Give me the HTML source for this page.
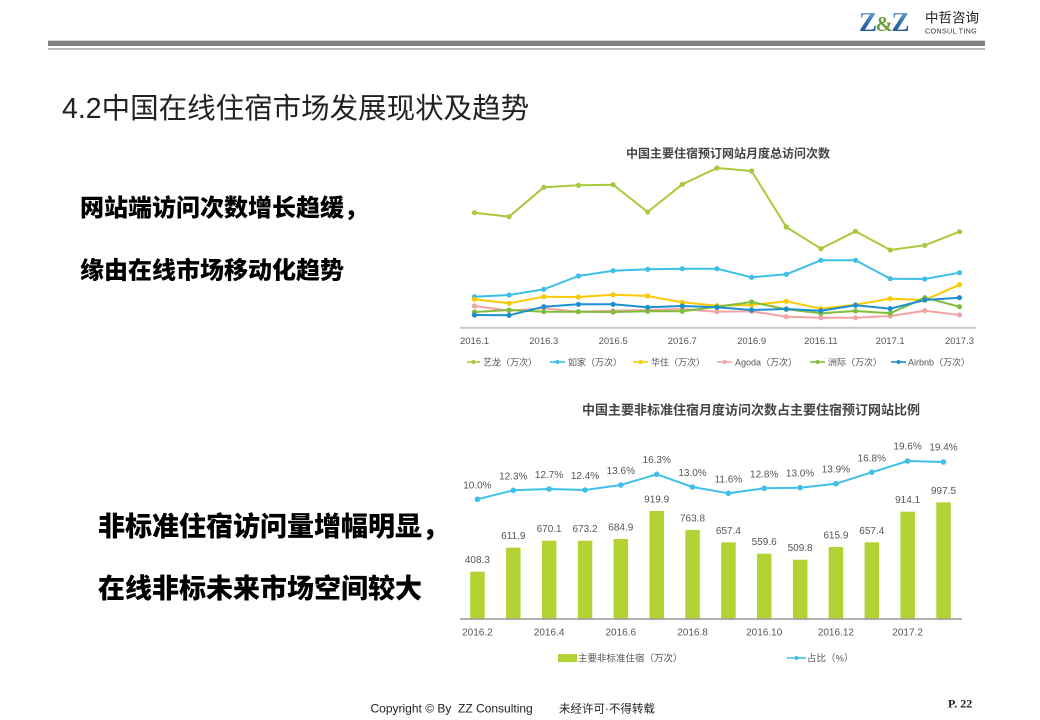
<!DOCTYPE html>
<html>
<head>
<meta charset="utf-8">
<style>
html,body{margin:0;padding:0;background:#fff;}
body{width:1040px;height:720px;overflow:hidden;}
svg{display:block;}
.cjk{font-family:"Liberation Sans","Noto Sans CJK SC","WenQuanYi Zen Hei",sans-serif;}
.sm{font-family:"Liberation Sans","Noto Sans CJK SC",sans-serif;font-size:9.5px;fill:#555;}
.val{font-family:"Liberation Sans","Noto Sans CJK SC",sans-serif;font-size:10px;fill:#555;text-anchor:middle;}
</style>
</head>
<body>
<svg width="1040" height="720" viewBox="0 0 1040 720" xmlns="http://www.w3.org/2000/svg">
<defs>
<linearGradient id="zg" x1="0" y1="0" x2="0" y2="1">
<stop offset="0" stop-color="#8fb6dc"/>
<stop offset="0.5" stop-color="#2f6fb0"/>
<stop offset="1" stop-color="#1d4f8a"/>
</linearGradient>
</defs>

<!-- Header -->
<text x="859" y="31" font-family="Liberation Serif,serif" font-weight="bold" font-size="27" fill="url(#zg)" letter-spacing="-1.5">Z<tspan fill="#6aa040" font-size="21">&amp;</tspan>Z</text>
<text x="925" y="22.5" class="cjk" font-size="13.5" fill="#222">中哲咨询</text>
<text x="925" y="33.5" font-family="Liberation Sans,sans-serif" font-size="7.2" fill="#333" letter-spacing="0.3">CONSUL TING</text>
<rect x="48" y="40.7" width="937" height="5.3" fill="#808080"/>
<rect x="48" y="48.3" width="937" height="1.4" fill="#9a9a9a"/>

<!-- Title -->
<text x="62" y="118" class="cjk" font-size="28.5" fill="#222">4.2中国在线住宿市场发展现状及趋势</text>

<!-- Left bold text -->
<text x="80" y="216" class="cjk" font-size="24" font-weight="900" fill="#000">网站端访问次数增长趋缓，</text>
<text x="80" y="278.5" class="cjk" font-size="24" font-weight="900" fill="#000">缘由在线市场移动化趋势</text>
<text x="98" y="536" class="cjk" font-size="27" font-weight="900" fill="#000">非标准住宿访问量增幅明显，</text>
<text x="98" y="598" class="cjk" font-size="27" font-weight="900" fill="#000">在线非标未来市场空间较大</text>

<!-- Top chart -->
<text x="728" y="157.5" class="cjk" font-size="12" font-weight="bold" fill="#444" text-anchor="middle">中国主要住宿预订网站月度总访问次数</text>

<g fill="none" stroke-width="2" stroke-linejoin="round">
<polyline stroke="#a9c93c" points="474.5,212.7 509.1,216.7 543.8,187.3 578.4,185.3 613.1,184.7 647.7,212 682.3,184.3 717,168 751.6,171 786.3,227 820.9,248.7 855.5,231.3 890.2,250 924.8,245.3 959.5,231.7"/>
<polyline stroke="#3dbfe8" points="474.5,296.7 509.1,295 543.8,289.3 578.4,276 613.1,270.7 647.7,269.3 682.3,268.7 717,268.7 751.6,277.3 786.3,274.3 820.9,260.3 855.5,260.3 890.2,278.7 924.8,279 959.5,272.7"/>
<polyline stroke="#fbc900" points="474.5,299.3 509.1,303.3 543.8,296.7 578.4,297 613.1,294.7 647.7,296 682.3,302.3 717,305.7 751.6,305 786.3,301.3 820.9,308.7 855.5,304.7 890.2,298.7 924.8,300 959.5,284.7"/>
<polyline stroke="#f2a3a3" points="474.5,306 509.1,310.7 543.8,308.3 578.4,311.7 613.1,310.7 647.7,310 682.3,309 717,311.7 751.6,311.3 786.3,316.7 820.9,317.7 855.5,317.7 890.2,316 924.8,310.7 959.5,315"/>
<polyline stroke="#80bd3a" points="474.5,312 509.1,310 543.8,311.7 578.4,311.7 613.1,312 647.7,311.3 682.3,311.3 717,306.7 751.6,302 786.3,309.3 820.9,313.3 855.5,311 890.2,313.3 924.8,297.7 959.5,306.7"/>
<polyline stroke="#1d8fcf" points="474.5,315 509.1,315.3 543.8,306.7 578.4,304.3 613.1,304.3 647.7,307.3 682.3,306 717,307.3 751.6,310 786.3,309 820.9,310.7 855.5,305.3 890.2,308.7 924.8,300 959.5,297.7"/>
</g>
<g fill="#a9c93c">
<circle cx="474.5" cy="212.7" r="2.6"/><circle cx="509.1" cy="216.7" r="2.6"/><circle cx="543.8" cy="187.3" r="2.6"/><circle cx="578.4" cy="185.3" r="2.6"/><circle cx="613.1" cy="184.7" r="2.6"/><circle cx="647.7" cy="212" r="2.6"/><circle cx="682.3" cy="184.3" r="2.6"/><circle cx="717" cy="168" r="2.6"/><circle cx="751.6" cy="171" r="2.6"/><circle cx="786.3" cy="227" r="2.6"/><circle cx="820.9" cy="248.7" r="2.6"/><circle cx="855.5" cy="231.3" r="2.6"/><circle cx="890.2" cy="250" r="2.6"/><circle cx="924.8" cy="245.3" r="2.6"/><circle cx="959.5" cy="231.7" r="2.6"/>
</g>
<g fill="#3dbfe8">
<circle cx="474.5" cy="296.7" r="2.6"/><circle cx="509.1" cy="295" r="2.6"/><circle cx="543.8" cy="289.3" r="2.6"/><circle cx="578.4" cy="276" r="2.6"/><circle cx="613.1" cy="270.7" r="2.6"/><circle cx="647.7" cy="269.3" r="2.6"/><circle cx="682.3" cy="268.7" r="2.6"/><circle cx="717" cy="268.7" r="2.6"/><circle cx="751.6" cy="277.3" r="2.6"/><circle cx="786.3" cy="274.3" r="2.6"/><circle cx="820.9" cy="260.3" r="2.6"/><circle cx="855.5" cy="260.3" r="2.6"/><circle cx="890.2" cy="278.7" r="2.6"/><circle cx="924.8" cy="279" r="2.6"/><circle cx="959.5" cy="272.7" r="2.6"/>
</g>
<g fill="#fbc900">
<circle cx="474.5" cy="299.3" r="2.6"/><circle cx="509.1" cy="303.3" r="2.6"/><circle cx="543.8" cy="296.7" r="2.6"/><circle cx="578.4" cy="297" r="2.6"/><circle cx="613.1" cy="294.7" r="2.6"/><circle cx="647.7" cy="296" r="2.6"/><circle cx="682.3" cy="302.3" r="2.6"/><circle cx="717" cy="305.7" r="2.6"/><circle cx="751.6" cy="305" r="2.6"/><circle cx="786.3" cy="301.3" r="2.6"/><circle cx="820.9" cy="308.7" r="2.6"/><circle cx="855.5" cy="304.7" r="2.6"/><circle cx="890.2" cy="298.7" r="2.6"/><circle cx="924.8" cy="300" r="2.6"/><circle cx="959.5" cy="284.7" r="2.6"/>
</g>
<g fill="#f2a3a3">
<circle cx="474.5" cy="306" r="2.6"/><circle cx="509.1" cy="310.7" r="2.6"/><circle cx="543.8" cy="308.3" r="2.6"/><circle cx="578.4" cy="311.7" r="2.6"/><circle cx="613.1" cy="310.7" r="2.6"/><circle cx="647.7" cy="310" r="2.6"/><circle cx="682.3" cy="309" r="2.6"/><circle cx="717" cy="311.7" r="2.6"/><circle cx="751.6" cy="311.3" r="2.6"/><circle cx="786.3" cy="316.7" r="2.6"/><circle cx="820.9" cy="317.7" r="2.6"/><circle cx="855.5" cy="317.7" r="2.6"/><circle cx="890.2" cy="316" r="2.6"/><circle cx="924.8" cy="310.7" r="2.6"/><circle cx="959.5" cy="315" r="2.6"/>
</g>
<g fill="#80bd3a">
<circle cx="474.5" cy="312" r="2.6"/><circle cx="509.1" cy="310" r="2.6"/><circle cx="543.8" cy="311.7" r="2.6"/><circle cx="578.4" cy="311.7" r="2.6"/><circle cx="613.1" cy="312" r="2.6"/><circle cx="647.7" cy="311.3" r="2.6"/><circle cx="682.3" cy="311.3" r="2.6"/><circle cx="717" cy="306.7" r="2.6"/><circle cx="751.6" cy="302" r="2.6"/><circle cx="786.3" cy="309.3" r="2.6"/><circle cx="820.9" cy="313.3" r="2.6"/><circle cx="855.5" cy="311" r="2.6"/><circle cx="890.2" cy="313.3" r="2.6"/><circle cx="924.8" cy="297.7" r="2.6"/><circle cx="959.5" cy="306.7" r="2.6"/>
</g>
<g fill="#1d8fcf">
<circle cx="474.5" cy="315" r="2.6"/><circle cx="509.1" cy="315.3" r="2.6"/><circle cx="543.8" cy="306.7" r="2.6"/><circle cx="578.4" cy="304.3" r="2.6"/><circle cx="613.1" cy="304.3" r="2.6"/><circle cx="647.7" cy="307.3" r="2.6"/><circle cx="682.3" cy="306" r="2.6"/><circle cx="717" cy="307.3" r="2.6"/><circle cx="751.6" cy="310" r="2.6"/><circle cx="786.3" cy="309" r="2.6"/><circle cx="820.9" cy="310.7" r="2.6"/><circle cx="855.5" cy="305.3" r="2.6"/><circle cx="890.2" cy="308.7" r="2.6"/><circle cx="924.8" cy="300" r="2.6"/><circle cx="959.5" cy="297.7" r="2.6"/>
</g>
<rect x="460" y="326.8" width="516" height="2" fill="#c8c8c8"/>
<g class="sm" text-anchor="middle">
<text x="474.5" y="344">2016.1</text>
<text x="543.8" y="344">2016.3</text>
<text x="613.1" y="344">2016.5</text>
<text x="682.3" y="344">2016.7</text>
<text x="751.6" y="344">2016.9</text>
<text x="820.9" y="344">2016.11</text>
<text x="890.2" y="344">2017.1</text>
<text x="959.5" y="344">2017.3</text>
</g>
<!-- top legend -->
<g stroke-width="1.6">
<line x1="467" y1="362" x2="480" y2="362" stroke="#a9c93c"/>
<line x1="550" y1="362" x2="565" y2="362" stroke="#3dbfe8"/>
<line x1="633" y1="362" x2="648" y2="362" stroke="#fbc900"/>
<line x1="717" y1="362" x2="732" y2="362" stroke="#f2a3a3"/>
<line x1="810" y1="362" x2="825" y2="362" stroke="#80bd3a"/>
<line x1="891" y1="362" x2="906" y2="362" stroke="#1d8fcf"/>
</g>
<circle cx="473.5" cy="362" r="2" fill="#a9c93c"/>
<circle cx="557.5" cy="362" r="2" fill="#3dbfe8"/>
<circle cx="640.5" cy="362" r="2" fill="#fbc900"/>
<circle cx="724.5" cy="362" r="2" fill="#f2a3a3"/>
<circle cx="817.5" cy="362" r="2" fill="#80bd3a"/>
<circle cx="898.5" cy="362" r="2" fill="#1d8fcf"/>
<g class="sm" font-size="9">
<text x="483" y="365.5" font-size="9">艺龙（万次）</text>
<text x="568" y="365.5" font-size="9">如家（万次）</text>
<text x="651" y="365.5" font-size="9">华住（万次）</text>
<text x="735" y="365.5" font-size="9">Agoda（万次）</text>
<text x="828" y="365.5" font-size="9">洲际（万次）</text>
<text x="908" y="365.5" font-size="9">Airbnb（万次）</text>
</g>

<!-- Bottom chart -->
<text x="751" y="414.5" class="cjk" font-size="13" font-weight="bold" fill="#444" text-anchor="middle">中国主要非标准住宿月度访问次数占主要住宿预订网站比例</text>

<g fill="#b3d234">
<rect x="470.2" y="571.7" width="14.5" height="47.3"/>
<rect x="506.1" y="547.7" width="14.5" height="71.3"/>
<rect x="541.9" y="540.7" width="14.5" height="78.3"/>
<rect x="577.8" y="540.7" width="14.5" height="78.3"/>
<rect x="613.6" y="539" width="14.5" height="80"/>
<rect x="649.5" y="511" width="14.5" height="108"/>
<rect x="685.3" y="530" width="14.5" height="89"/>
<rect x="721.2" y="542.3" width="14.5" height="76.7"/>
<rect x="757" y="553.7" width="14.5" height="65.3"/>
<rect x="792.9" y="559.7" width="14.5" height="59.3"/>
<rect x="828.7" y="547" width="14.5" height="72"/>
<rect x="864.6" y="542.3" width="14.5" height="76.7"/>
<rect x="900.4" y="511.7" width="14.5" height="107.3"/>
<rect x="936.3" y="502.3" width="14.5" height="116.7"/>
</g>
<g class="val">
<text x="477.4" y="563.2">408.3</text>
<text x="513.3" y="539.2">611.9</text>
<text x="549.1" y="532.2">670.1</text>
<text x="585" y="532.2">673.2</text>
<text x="620.8" y="530.5">684.9</text>
<text x="656.7" y="502.5">919.9</text>
<text x="692.5" y="521.5">763.8</text>
<text x="728.4" y="533.8">657.4</text>
<text x="764.2" y="545.2">559.6</text>
<text x="800.1" y="551.2">509.8</text>
<text x="835.9" y="538.5">615.9</text>
<text x="871.8" y="533.8">657.4</text>
<text x="907.6" y="503.2">914.1</text>
<text x="943.5" y="493.8">997.5</text>
</g>
<polyline fill="none" stroke="#3fc0ea" stroke-width="2" stroke-linejoin="round" points="477.4,499.3 513.3,490.3 549.1,489 585,490 620.8,485 656.7,474.3 692.5,487 728.4,493.3 764.2,488.3 800.1,487.7 835.9,483.7 871.8,472.3 907.6,461 943.5,462"/>
<g fill="#3fc0ea">
<circle cx="477.4" cy="499.3" r="2.8"/><circle cx="513.3" cy="490.3" r="2.8"/><circle cx="549.1" cy="489" r="2.8"/><circle cx="585" cy="490" r="2.8"/><circle cx="620.8" cy="485" r="2.8"/><circle cx="656.7" cy="474.3" r="2.8"/><circle cx="692.5" cy="487" r="2.8"/><circle cx="728.4" cy="493.3" r="2.8"/><circle cx="764.2" cy="488.3" r="2.8"/><circle cx="800.1" cy="487.7" r="2.8"/><circle cx="835.9" cy="483.7" r="2.8"/><circle cx="871.8" cy="472.3" r="2.8"/><circle cx="907.6" cy="461" r="2.8"/><circle cx="943.5" cy="462" r="2.8"/>
</g>
<g class="val">
<text x="477.4" y="488.5">10.0%</text>
<text x="513.3" y="479.3">12.3%</text>
<text x="549.1" y="478">12.7%</text>
<text x="585" y="479">12.4%</text>
<text x="620.8" y="474">13.6%</text>
<text x="656.7" y="463">16.3%</text>
<text x="692.5" y="476">13.0%</text>
<text x="728.4" y="482.3">11.6%</text>
<text x="764.2" y="477.3">12.8%</text>
<text x="800.1" y="476.7">13.0%</text>
<text x="835.9" y="472.7">13.9%</text>
<text x="871.8" y="461.3">16.8%</text>
<text x="907.6" y="449.5">19.6%</text>
<text x="943.5" y="450.5">19.4%</text>
</g>
<rect x="460" y="618.3" width="502" height="1.5" fill="#999"/>
<g class="val" font-size="10">
<text x="477.4" y="635.5">2016.2</text>
<text x="549.1" y="635.5">2016.4</text>
<text x="620.8" y="635.5">2016.6</text>
<text x="692.5" y="635.5">2016.8</text>
<text x="764.2" y="635.5">2016.10</text>
<text x="835.9" y="635.5">2016.12</text>
<text x="907.6" y="635.5">2017.2</text>
</g>
<rect x="558" y="654" width="19" height="8" fill="#b3d234"/>
<text x="578" y="661.5" class="sm" font-size="10">主要非标准住宿（万次）</text>
<line x1="787" y1="658" x2="806" y2="658" stroke="#3fc0ea" stroke-width="1.6"/>
<circle cx="796.5" cy="658" r="2" fill="#3fc0ea"/>
<text x="807" y="661.5" class="sm" font-size="10">占比（%）</text>

<!-- Footer -->
<text x="370.5" y="712.5" font-family="Liberation Sans,sans-serif" font-size="12" fill="#222">Copyright © By&#160; ZZ Consulting</text>
<text x="559" y="712.5" class="cjk" font-size="11.5" fill="#222">未经许可·不得转载</text>
<text x="948" y="707.5" font-family="Liberation Serif,serif" font-weight="bold" font-size="12" fill="#222">P. 22</text>
</svg>
</body>
</html>
